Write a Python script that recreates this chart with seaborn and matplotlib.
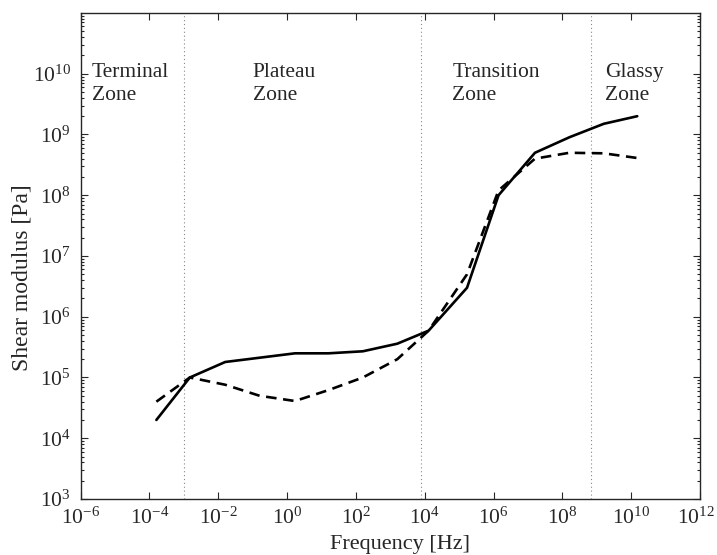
import numpy as np
import pandas as pd
import matplotlib
matplotlib.use("Agg")
import matplotlib.pyplot as plt
import matplotlib.transforms as mtransforms
import seaborn as sns
from matplotlib.ticker import LogLocator, NullLocator, FixedLocator, LogFormatterSciNotation

# ---- data ----
solid_freq = [1.6e-4, 1.5e-3, 1.6e-2, 1.7, 1.6e1, 1.6e2, 1.6e3, 1.3e4, 1.7e5, 1.4e6, 1.6e7, 1.6e8, 1.6e9, 1.5e10]
solid_mod = [2e4, 1e5, 1.8e5, 2.5e5, 2.5e5, 2.7e5, 3.6e5, 5.9e5, 3e6, 1e8, 5e8, 9e8, 1.5e9, 2e9]

dash_freq = [1.6e-4, 1.5e-3, 1.6e-2, 1.6e-1, 1.7, 1.6e1, 1.6e2, 1.6e3, 1.3e4, 1.7e5, 1.4e6, 1.6e7, 1.6e8, 1.6e9, 1.5e10]
dash_mod = [4e4, 1e5, 7.6e4, 5e4, 4.1e4, 6.2e4, 1e5, 2e5, 5.9e5, 5e6, 1.2e8, 4e8, 5e8, 4.9e8, 4.1e8]

zone_bounds = [1e-3, 8e3, 7e8]
zone_labels = ["Terminal\nZone", "Plateau\nZone", "Transition\nZone", "Glassy\nZone"]
zone_label_x = [2.1e-6, 1e-1, 6.3e4, 1.7e9]
zone_label_y = 1.5e10

x_ticks = [10.0**k for k in range(-6, 13, 2)]
y_ticks = [10.0**k for k in range(3, 11)]

df = pd.concat([
    pd.DataFrame({"freq": solid_freq, "mod": solid_mod, "series": "solid"}),
    pd.DataFrame({"freq": dash_freq, "mod": dash_mod, "series": "dashed"}),
], ignore_index=True)

sns.set_style("ticks")
plt.rcParams["font.family"] = ["Liberation Serif", "DejaVu Serif"]
plt.rcParams["mathtext.fontset"] = "stix"

fig = plt.figure(figsize=(7.17, 5.55), dpi=100)
ax = fig.add_axes([0.1123, 0.1009, 0.8640, 0.8757])

for xb in zone_bounds:
    ax.axvline(xb, color="#888888", linestyle=(0, (1, 2.5)), linewidth=0.8, zorder=1)

sns.lineplot(data=df, x="freq", y="mod", style="series",
             dashes={"solid": "", "dashed": (4, 2.5)},
             color="black", linewidth=1.9, legend=False, ax=ax, sort=False,
             estimator=None)

ax.set_xscale("log")
ax.set_yscale("log")
ax.set_xlim(1e-6, 1e12)
ax.set_ylim(1e3, 1e11)

ax.xaxis.set_major_locator(FixedLocator(x_ticks))
ax.xaxis.set_minor_locator(NullLocator())
ax.yaxis.set_major_locator(FixedLocator(y_ticks))
ax.yaxis.set_minor_locator(LogLocator(base=10, subs=np.arange(2, 10), numticks=20))
ax.xaxis.set_major_formatter(LogFormatterSciNotation())
ax.yaxis.set_major_formatter(LogFormatterSciNotation())

ax.tick_params(which="both", direction="in", top=True, right=True, labelsize=15.5, width=0.8)
ax.tick_params(which="major", length=5)
ax.tick_params(which="minor", length=2.5)
ax.tick_params(axis="x", which="major", pad=6)
ax.tick_params(axis="y", which="major", pad=7)
for s in ax.spines.values():
    s.set_linewidth(1.0)
    s.set_visible(True)

for lbl, xx in zip(zone_labels, zone_label_x):
    ax.text(xx, zone_label_y, lbl, fontsize=15.5, ha="left", va="top", linespacing=1.26)

ax.set_xlabel("Frequency [Hz]", fontsize=16)
ax.set_ylabel("Shear modulus [Pa]", fontsize=17)
ax.xaxis.set_label_coords(0.516, -0.074)
ax.yaxis.set_label_coords(-0.078, 0.455)

# keep the last x tick label inside the canvas
fig.canvas.draw()
last = ax.get_xticklabels()[-1]
last.set_transform(last.get_transform() + mtransforms.ScaledTranslation(-4 / 100, 0, fig.dpi_scale_trans))

fig.savefig("out.png", dpi=100)
